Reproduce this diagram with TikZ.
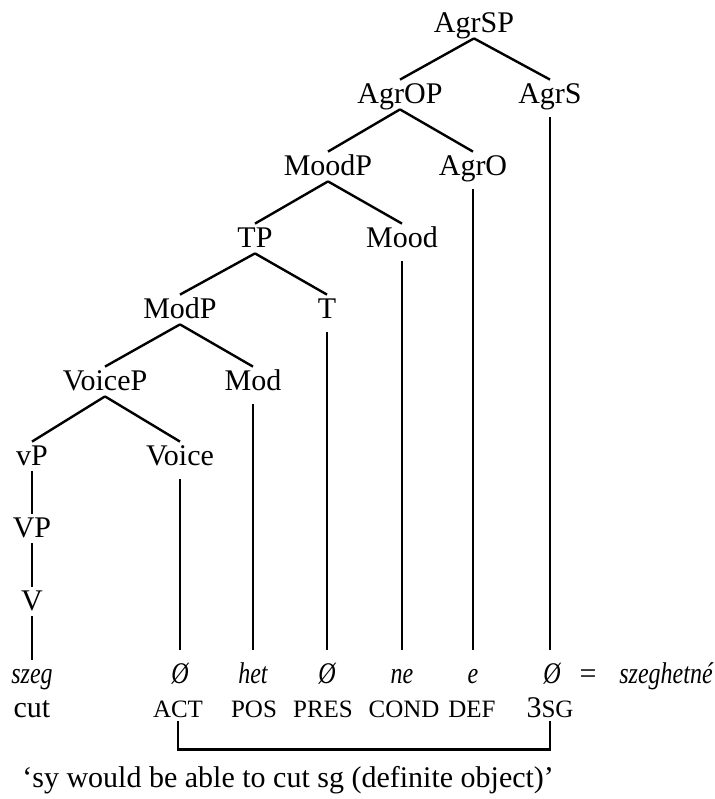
\documentclass[tikz,border=0pt]{standalone}
\usepackage{fontspec}
\setmainfont{Liberation Serif}
\newfontfamily\morphfont{Liberation Serif}[FakeStretch=0.8]
\usetikzlibrary{calc}

\begin{document}
\begin{tikzpicture}[x=0.5pt,y=-0.5pt,font=\fontsize{15}{18}\selectfont,
 cat/.style={anchor=base,inner sep=1pt,text height=10.5pt,text depth=2pt},
 morph/.style={cat,font=\fontsize{15}{18}\selectfont\morphfont\itshape},
 gloss/.style={anchor=base,inner sep=1pt,text height=8.5pt,text depth=1pt,font=\fontsize{12.5}{14}\selectfont},
 branch/.style={line width=1.2pt},
 head/.style={line width=1.2pt,shorten <=4pt,shorten >=5pt}]
 \useasboundingbox (0,0) rectangle (714,799);
 % the tree, one level per row
 \node[cat] (agrsp) at (474,32) {AgrSP};
 \node[cat] (agrop) at (400,103) {AgrOP}; \node[cat] (agrs) at (550,103) {AgrS};
 \node[cat] (moodp) at (328,175) {MoodP}; \node[cat] (agro) at (473,175) {AgrO};
 \node[cat] (tp) at (255,247) {TP}; \node[cat] (mood) at (402,247) {Mood};
 \node[cat] (modp) at (180,318) {ModP}; \node[cat] (t) at (327,318) {T};
 \node[cat] (voicep) at (105,390) {VoiceP}; \node[cat] (mod) at (253,390) {Mod};
 \node[cat] (vsmall) at (32,465) {vP}; \node[cat] (voice) at (180,465) {Voice};
 \node[cat] (vbig) at (32,537) {VP};
 \node[cat] (verb) at (32,610) {V};
 \foreach \p/\a/\b in {agrsp/agrop/agrs,agrop/moodp/agro,moodp/tp/mood,tp/modp/t,modp/voicep/mod,voicep/vsmall/voice}
  \draw[branch] (\p.south) -- (\a.north) (\p.south) -- (\b.north);
 \draw[branch] (vsmall.south) -- (vbig.north) (vbig.south) -- (verb.north);
 % morphemes and glosses
 \node[morph] (szeg) at (32,683) {szeg}; \node[cat] (cut) at (32,717) {cut};
 \node[morph] (zeroact) at (180,683) {Ø}; \node[gloss] (act) at (178,717) {ACT};
 \node[morph] (het) at (253,683) {het}; \node[gloss] (pos) at (254,717) {POS};
 \node[morph] (zeropres) at (327,683) {Ø}; \node[gloss] (pres) at (323,717) {PRES};
 \node[morph] (ne) at (402,683) {ne}; \node[gloss] (cond) at (404,717) {COND};
 \node[morph] (e) at (473,683) {e}; \node[gloss] (def) at (472,717) {DEF};
 \node[morph] (zeroagr) at (552,683) {Ø}; \node[gloss] (sg) at (550,717) {{\fontsize{15}{18}\selectfont 3}SG};
 \node[cat] (eq) at (588,683) {=};
 \node[morph,anchor=base west] (word) at (617,683) {szeghetné};
 \draw[branch] (verb.south) -- (szeg.north);
 \foreach \h/\m in {voice/zeroact,mod/het,t/zeropres,mood/ne,agro/e,agrs/zeroagr}
  \draw[head] (\h.south) -- (\h.south |- \m.north);
 \draw[branch] (act.south) -- ++(0,28) -| (sg.south);
 \node[cat,anchor=base west] (transl) at (20,787) {‘sy would be able to cut sg (definite object)’};
\end{tikzpicture}
\end{document}
